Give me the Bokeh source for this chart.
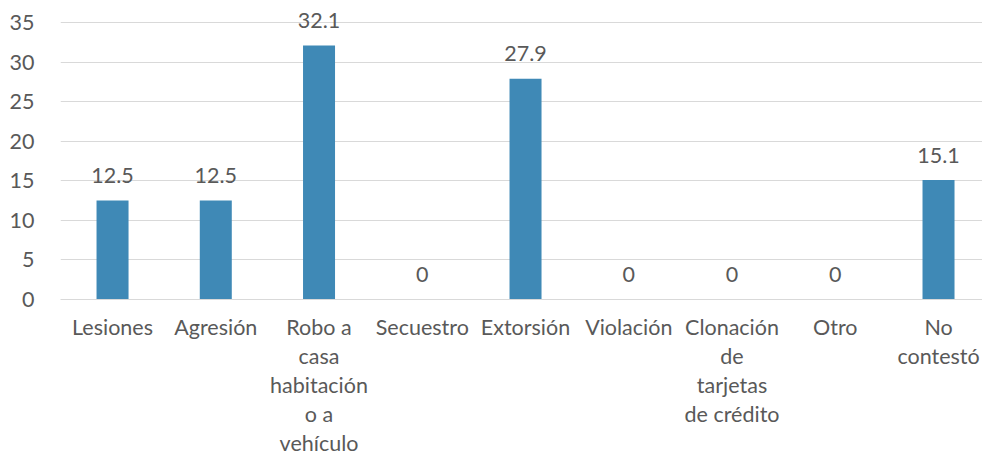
from bokeh.plotting import figure
from bokeh.models import Range1d, FixedTicker, ColumnDataSource
from bokeh.core.properties import value
from bokeh.embed import file_html
from bokeh.resources import INLINE

categories = ["Lesiones", "Agresión", "Robo a casa habitación o a vehículo", "Secuestro",
              "Extorsión", "Violación", "Clonación de tarjetas de crédito", "Otro", "No contestó"]
tick_labels = ["Lesiones", "Agresión", "Robo a\ncasa\nhabitación\no a\nvehículo", "Secuestro",
               "Extorsión", "Violación", "Clonación\nde\ntarjetas\nde crédito", "Otro", "No\ncontestó"]
values = [12.5, 12.5, 32.1, 0, 27.9, 0, 0, 0, 15.1]
y_ticks = [0, 5, 10, 15, 20, 25, 30, 35]

FONT = "Lato"
TXT = "#595959"
BAR = "#3F89B6"
GRID = "#D9D9D9"

xs = list(range(len(categories)))
src = ColumnDataSource(dict(x=xs, v=values, lab=[f"{v:g}" for v in values], cat=categories))

p = figure(width=982, height=458, output_backend="svg", toolbar_location=None,
           x_range=Range1d(-0.504, 8.426), y_range=Range1d(0, 36.52),
           min_border_left=60, min_border_right=0, min_border_top=10, min_border_bottom=159)
p.outline_line_color = None
p.background_fill_color = "white"
p.border_fill_color = "white"

p.vbar(x="x", top="v", width=0.31, source=src, fill_color=BAR, line_color=None)
p.text(x="x", y="v", text="lab", source=src, y_offset=-25, text_align="center",
       text_baseline="alphabetic", text_font=value(FONT), text_font_size="21.5px", text_color=TXT)

p.xgrid.grid_line_color = None
p.ygrid.grid_line_color = GRID
p.ygrid.grid_line_width = 1
p.ygrid.ticker = FixedTicker(ticks=y_ticks)

p.yaxis.ticker = FixedTicker(ticks=y_ticks)
p.yaxis.axis_line_color = None
p.yaxis.major_tick_line_color = None
p.yaxis.minor_tick_line_color = None
p.yaxis.major_label_standoff = 20
p.yaxis.major_label_text_font = FONT
p.yaxis.major_label_text_font_size = "21.5px"
p.yaxis.major_label_text_color = TXT

p.xaxis.ticker = FixedTicker(ticks=xs)
p.xaxis.major_label_overrides = {i: t for i, t in zip(xs, tick_labels)}
p.xaxis.axis_line_color = GRID
p.xaxis.major_tick_line_color = None
p.xaxis.minor_tick_line_color = None
p.xaxis.major_label_standoff = 8
p.xaxis.major_label_text_font = FONT
p.xaxis.major_label_text_font_size = "21.5px"
p.xaxis.major_label_text_color = TXT
p.xaxis.major_label_text_line_height = 1.12

open("out.html", "w").write(file_html(p, INLINE))
